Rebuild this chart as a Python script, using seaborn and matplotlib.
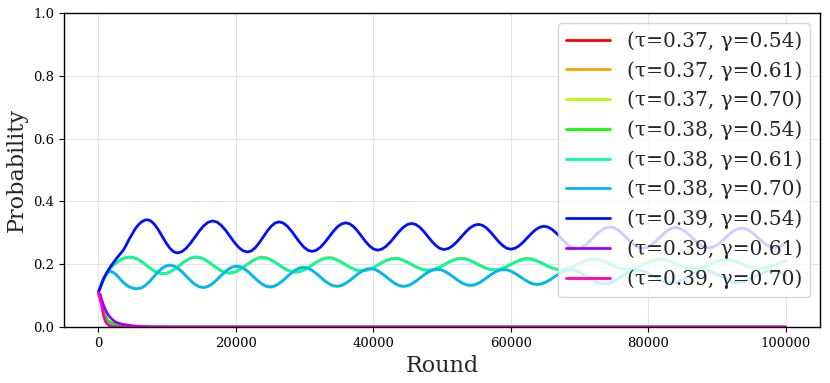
import numpy as np
import pandas as pd
import matplotlib
matplotlib.use("Agg")
import matplotlib.pyplot as plt
import seaborn as sns

labels = ["(τ=0.37, γ=0.54)", "(τ=0.37, γ=0.61)", "(τ=0.37, γ=0.70)",
          "(τ=0.38, γ=0.54)", "(τ=0.38, γ=0.61)", "(τ=0.38, γ=0.70)",
          "(τ=0.39, γ=0.54)", "(τ=0.39, γ=0.61)", "(τ=0.39, γ=0.70)"]

# ---- runs that die out quickly ----
rounds_decay = [0, 250, 500, 750, 1000, 1250, 1500, 2000, 2500, 3000, 3500, 4000,
                5000, 6000, 7000, 8000, 10000, 100000]
p_037_054 = [0.110, 0.102, 0.080, 0.055, 0.037, 0.024, 0.018, 0.012, 0.008, 0.005, 0.003, 0.002,
             0.001, 0.0005, 0.0, 0.0, 0.0, 0.0]
p_038_054 = [0.110, 0.102, 0.080, 0.055, 0.037, 0.024, 0.018, 0.012, 0.008, 0.005, 0.003, 0.002,
             0.001, 0.0005, 0.0, 0.0, 0.0, 0.0]
p_039_061 = [0.110, 0.103, 0.086, 0.070, 0.057, 0.046, 0.037, 0.025, 0.016, 0.012, 0.009, 0.007,
             0.004, 0.002, 0.001, 0.0005, 0.0, 0.0]
p_039_070 = [0.110, 0.090, 0.067, 0.038, 0.020, 0.011, 0.006, 0.002, 0.0008, 0.0, 0.0, 0.0,
             0.0, 0.0, 0.0, 0.0, 0.0, 0.0]

# ---- gamma = 0.61 (oscillating) ----
rounds_061 = [0, 400, 800, 1200, 1700, 2200, 2700, 3150, 3600, 4100, 4600,
              5203, 5805, 6408, 7010, 7613, 8215, 8818, 9420,
              10023, 10625, 11228, 11830, 12433, 13035, 13638, 14240,
              14843, 15445, 16048, 16650, 17253, 17855, 18458, 19060,
              19663, 20265, 20868, 21470, 22073, 22675, 23278, 23880,
              24483, 25085, 25688, 26290, 26893, 27495, 28098, 28700,
              29303, 29905, 30508, 31110, 31713, 32315, 32918, 33520,
              34123, 34725, 35328, 35930, 36533, 37135, 37738, 38340,
              38943, 39545, 40148, 40750, 41353, 41955, 42558, 43160,
              43763, 44365, 44968, 45570, 46173, 46775, 47378, 47980,
              48583, 49185, 49788, 50390, 50993, 51595, 52198, 52800,
              53403, 54005, 54608, 55210, 55813, 56415, 57018, 57620,
              58223, 58825, 59428, 60030, 60633, 61235, 61838, 62440,
              63043, 63645, 64248, 64850, 65453, 66055, 66658, 67260,
              67863, 68465, 69068, 69670, 70273, 70875, 71478, 72080,
              72683, 73285, 73888, 74490, 75093, 75695, 76298, 76900,
              77503, 78105, 78708, 79310, 79913, 80515, 81118, 81720,
              82323, 82925, 83528, 84130, 84733, 85335, 85938, 86540,
              87143, 87745, 88348, 88950, 89553, 90155, 90758, 91360,
              91963, 92565, 93168, 93770, 94373, 94975, 95578, 96180,
              96783, 97385, 97988, 98590, 99193, 99795, 100000]
p_038_061 = [0.110, 0.133, 0.153, 0.170, 0.186, 0.197, 0.206, 0.213, 0.218, 0.2215, 0.223,
             0.221, 0.2152, 0.2066, 0.1965, 0.1864, 0.1778, 0.172, 0.170,
             0.172, 0.1778, 0.1864, 0.1965, 0.2066, 0.2152, 0.221, 0.223,
             0.2211, 0.2155, 0.2073, 0.1975, 0.1877, 0.1795, 0.1739, 0.172,
             0.1739, 0.1792, 0.1871, 0.1965, 0.2059, 0.2138, 0.2191, 0.221,
             0.2193, 0.2143, 0.2068, 0.198, 0.1892, 0.1817, 0.1767, 0.175,
             0.1767, 0.1816, 0.1889, 0.1975, 0.2061, 0.2134, 0.2183, 0.220,
             0.2184, 0.214, 0.2074, 0.1995, 0.1916, 0.185, 0.1806, 0.179,
             0.1805, 0.1847, 0.191, 0.1985, 0.206, 0.2123, 0.2165, 0.218,
             0.2166, 0.2126, 0.2066, 0.1995, 0.1924, 0.1864, 0.1824, 0.181,
             0.1824, 0.1864, 0.1924, 0.1995, 0.2066, 0.2126, 0.2166, 0.218,
             0.2166, 0.2127, 0.2069, 0.200, 0.1931, 0.1873, 0.1834, 0.182,
             0.1833, 0.1871, 0.1928, 0.1995, 0.2062, 0.2119, 0.2157, 0.217,
             0.2157, 0.212, 0.2065, 0.200, 0.1935, 0.188, 0.1843, 0.183,
             0.1843, 0.1878, 0.1932, 0.1995, 0.2058, 0.2112, 0.2147, 0.216,
             0.2148, 0.2113, 0.2061, 0.200, 0.1939, 0.1887, 0.1852, 0.184,
             0.1852, 0.1885, 0.1936, 0.1995, 0.2054, 0.2105, 0.2138, 0.215,
             0.2139, 0.2106, 0.2057, 0.200, 0.1943, 0.1894, 0.1861, 0.185,
             0.1861, 0.1892, 0.1939, 0.1995, 0.2051, 0.2098, 0.2129, 0.214,
             0.2129, 0.2099, 0.2054, 0.200, 0.1946, 0.1901, 0.1871, 0.186,
             0.187, 0.190, 0.1943, 0.1995, 0.2047, 0.209, 0.2102]
p_037_061 = [0.110, 0.133, 0.153, 0.170, 0.186, 0.197, 0.206, 0.213, 0.218, 0.2215, 0.223,
             0.221, 0.2152, 0.2066, 0.1965, 0.1864, 0.1778, 0.172, 0.170,
             0.172, 0.1778, 0.1864, 0.1965, 0.2066, 0.2152, 0.221, 0.223,
             0.2211, 0.2155, 0.2073, 0.1975, 0.1877, 0.1795, 0.1739, 0.172,
             0.1739, 0.1792, 0.1871, 0.1965, 0.2059, 0.2138, 0.2205, 0.2225,
             0.2208, 0.2143, 0.2068, 0.198, 0.1892, 0.1817, 0.1767, 0.175,
             0.1767, 0.1816, 0.1889, 0.1975, 0.2061, 0.2134, 0.2198, 0.2215,
             0.2199, 0.214, 0.2074, 0.1995, 0.1916, 0.185, 0.1806, 0.179,
             0.1805, 0.1847, 0.191, 0.1985, 0.206, 0.2123, 0.218, 0.2195,
             0.2181, 0.2126, 0.2066, 0.1995, 0.1924, 0.1864, 0.1824, 0.181,
             0.1824, 0.1864, 0.1924, 0.1995, 0.2066, 0.2126, 0.2181, 0.2195,
             0.2181, 0.2127, 0.2069, 0.200, 0.1931, 0.1873, 0.1834, 0.182,
             0.1833, 0.1871, 0.1928, 0.1995, 0.2062, 0.2119, 0.2172, 0.2185,
             0.2172, 0.212, 0.2065, 0.200, 0.1935, 0.188, 0.1843, 0.183,
             0.1843, 0.1878, 0.1932, 0.1995, 0.2058, 0.2112, 0.2162, 0.2175,
             0.2163, 0.2113, 0.2061, 0.200, 0.1939, 0.1887, 0.1852, 0.184,
             0.1852, 0.1885, 0.1936, 0.1995, 0.2054, 0.2105, 0.2153, 0.2165,
             0.2154, 0.2106, 0.2057, 0.200, 0.1943, 0.1894, 0.1861, 0.185,
             0.1861, 0.1892, 0.1939, 0.1995, 0.2051, 0.2098, 0.2144, 0.2155,
             0.2144, 0.2099, 0.2054, 0.200, 0.1946, 0.1901, 0.1871, 0.186,
             0.187, 0.190, 0.1943, 0.1995, 0.2047, 0.209, 0.2105]

# ---- gamma = 0.70 (oscillating) ----
rounds_070 = [0, 300, 600, 900, 1200, 1450, 1730, 2100, 2500, 2900, 3300, 3700, 4200, 4700, 5200, 5680,
              6270, 6860, 7450, 8040, 8630, 9220, 9810, 10400,
              11008, 11615, 12223, 12830, 13438, 14045, 14653, 15260,
              15868, 16475, 17083, 17690, 18298, 18905, 19513, 20120,
              20728, 21335, 21943, 22550, 23158, 23765, 24373, 24980,
              25588, 26195, 26803, 27410, 28018, 28625, 29233, 29840,
              30448, 31055, 31663, 32270, 32878, 33485, 34093, 34700,
              35308, 35915, 36523, 37130, 37738, 38345, 38953, 39560,
              40168, 40775, 41383, 41990, 42598, 43205, 43813, 44420,
              45028, 45635, 46243, 46850, 47458, 48065, 48673, 49280,
              49888, 50495, 51103, 51710, 52318, 52925, 53533, 54140,
              54748, 55355, 55963, 56570, 57178, 57785, 58393, 59000,
              59608, 60215, 60823, 61430, 62038, 62645, 63253, 63860,
              64468, 65075, 65683, 66290, 66898, 67505, 68113, 68720,
              69328, 69935, 70543, 71150, 71758, 72365, 72973, 73580,
              74188, 74795, 75403, 76010, 76618, 77225, 77833, 78440,
              79048, 79655, 80263, 80870, 81478, 82085, 82693, 83300,
              83908, 84515, 85123, 85730, 86338, 86945, 87553, 88160,
              88768, 89375, 89983, 90590, 91198, 91805, 92413, 93020,
              93628, 94235, 94843, 95450, 96058, 96665, 97273, 97880,
              98488, 99095, 99703, 100000]
p_038_070 = [0.110, 0.128, 0.146, 0.160, 0.169, 0.174, 0.177, 0.175, 0.169, 0.160, 0.150, 0.141, 0.132, 0.126, 0.123, 0.122,
             0.1248, 0.133, 0.1451, 0.1595, 0.1739, 0.186, 0.1942, 0.197,
             0.1943, 0.1866, 0.1751, 0.1615, 0.1479, 0.1364, 0.1287, 0.126,
             0.1286, 0.136, 0.147, 0.160, 0.173, 0.184, 0.1914, 0.194,
             0.1915, 0.1843, 0.1736, 0.161, 0.1484, 0.1377, 0.1305, 0.128,
             0.1304, 0.1371, 0.1471, 0.159, 0.1709, 0.1809, 0.1876, 0.190,
             0.1877, 0.1812, 0.1715, 0.160, 0.1485, 0.1388, 0.1323, 0.130,
             0.1321, 0.1382, 0.1473, 0.158, 0.1687, 0.1778, 0.1839, 0.186,
             0.1839, 0.1778, 0.1687, 0.158, 0.1473, 0.1382, 0.1321, 0.130,
             0.1321, 0.1379, 0.1467, 0.157, 0.1673, 0.1761, 0.1819, 0.184,
             0.1821, 0.1765, 0.1683, 0.1585, 0.1487, 0.1405, 0.1349, 0.133,
             0.1349, 0.1403, 0.1484, 0.158, 0.1676, 0.1757, 0.1811, 0.183,
             0.1812, 0.1761, 0.1685, 0.1595, 0.1505, 0.1429, 0.1378, 0.136,
             0.1377, 0.1427, 0.1502, 0.159, 0.1678, 0.1753, 0.1803, 0.182,
             0.1803, 0.1756, 0.1684, 0.160, 0.1516, 0.1444, 0.1397, 0.138,
             0.1396, 0.1443, 0.1513, 0.1595, 0.1677, 0.1747, 0.1794, 0.181,
             0.1794, 0.175, 0.1684, 0.1605, 0.1526, 0.146, 0.1416, 0.140,
             0.1415, 0.1459, 0.1523, 0.160, 0.1677, 0.1741, 0.1785, 0.180,
             0.1786, 0.1744, 0.1683, 0.161, 0.1537, 0.1476, 0.1434, 0.142,
             0.1434, 0.1474, 0.1534, 0.1605, 0.1676, 0.1736, 0.1776, 0.179,
             0.1776, 0.1737, 0.1679, 0.1646]
p_037_070 = [0.110, 0.128, 0.146, 0.160, 0.169, 0.174, 0.177, 0.175, 0.169, 0.160, 0.150, 0.141, 0.132, 0.126, 0.123, 0.122,
             0.1248, 0.133, 0.1451, 0.1595, 0.1739, 0.186, 0.1942, 0.197,
             0.1943, 0.1866, 0.1751, 0.1615, 0.1479, 0.1364, 0.1287, 0.126,
             0.1286, 0.136, 0.147, 0.160, 0.173, 0.184, 0.1914, 0.194,
             0.1915, 0.1843, 0.1736, 0.161, 0.1484, 0.1377, 0.1291, 0.1265,
             0.129, 0.1371, 0.1471, 0.159, 0.1709, 0.1809, 0.189, 0.1915,
             0.1891, 0.1812, 0.1715, 0.160, 0.1485, 0.1388, 0.1309, 0.1285,
             0.1307, 0.1382, 0.1473, 0.158, 0.1687, 0.1778, 0.1853, 0.1875,
             0.1853, 0.1778, 0.1687, 0.158, 0.1473, 0.1382, 0.1307, 0.1285,
             0.1307, 0.1379, 0.1467, 0.157, 0.1673, 0.1761, 0.1833, 0.1855,
             0.1835, 0.1765, 0.1683, 0.1585, 0.1487, 0.1405, 0.1335, 0.1315,
             0.1335, 0.1403, 0.1484, 0.158, 0.1676, 0.1757, 0.1825, 0.1845,
             0.1826, 0.1761, 0.1685, 0.1595, 0.1505, 0.1429, 0.1364, 0.1345,
             0.1363, 0.1427, 0.1502, 0.159, 0.1678, 0.1753, 0.1817, 0.1835,
             0.1817, 0.1756, 0.1684, 0.160, 0.1516, 0.1444, 0.1383, 0.1365,
             0.1382, 0.1443, 0.1513, 0.1595, 0.1677, 0.1747, 0.1808, 0.1825,
             0.1808, 0.175, 0.1684, 0.1605, 0.1526, 0.146, 0.1402, 0.1385,
             0.1401, 0.1459, 0.1523, 0.160, 0.1677, 0.1741, 0.1799, 0.1815,
             0.180, 0.1744, 0.1683, 0.161, 0.1537, 0.1476, 0.142, 0.1405,
             0.142, 0.1474, 0.1534, 0.1605, 0.1676, 0.1736, 0.179, 0.1805,
             0.179, 0.1737, 0.1679, 0.1646]

# ---- tau = 0.39, gamma = 0.54 ----
rounds_039_054 = [0, 400, 800, 1200, 1700, 2200, 2700, 3200, 3700, 4100, 4500, 4950, 5400, 5850, 6300, 6700, 7100,
                  7650, 8200, 8750, 9300, 9850, 10400, 10950, 11500,
                  12144, 12788, 13431, 14075, 14719, 15363, 16006, 16650,
                  17281, 17913, 18544, 19175, 19806, 20438, 21069, 21700,
                  22275, 22850, 23425, 24000, 24575, 25150, 25725, 26300,
                  26900, 27500, 28100, 28700, 29300, 29900, 30500, 31100,
                  31713, 32325, 32938, 33550, 34163, 34775, 35388, 36000,
                  36581, 37163, 37744, 38325, 38906, 39488, 40069, 40650,
                  41269, 41888, 42506, 43125, 43744, 44363, 44981, 45600,
                  46188, 46775, 47363, 47950, 48538, 49125, 49713, 50300,
                  50925, 51550, 52175, 52800, 53425, 54050, 54675, 55300,
                  55888, 56475, 57063, 57650, 58238, 58825, 59413, 60000,
                  60606, 61213, 61819, 62425, 63031, 63638, 64244, 64850,
                  65444, 66038, 66631, 67225, 67819, 68413, 69006, 69600,
                  70200, 70800, 71400, 72000, 72600, 73200, 73800, 74400,
                  75000, 75600, 76200, 76800, 77400, 78000, 78600, 79200,
                  79800, 80400, 81000, 81600, 82200, 82800, 83400, 84000,
                  84600, 85200, 85800, 86400, 87000, 87600, 88200, 88800,
                  89400, 90000, 90600, 91200, 91800, 92400, 93000, 93600,
                  94200, 94800, 95400, 96000, 96600, 97200, 97800, 98400,
                  99000, 99600, 100000]
p_039_054 = [0.110, 0.133, 0.155, 0.172, 0.190, 0.205, 0.220, 0.233, 0.247, 0.263, 0.280, 0.297, 0.314, 0.326, 0.335, 0.340, 0.342,
             0.338, 0.3265, 0.3093, 0.289, 0.2687, 0.2515, 0.240, 0.236,
             0.2399, 0.2509, 0.2675, 0.287, 0.3065, 0.3231, 0.3341, 0.338,
             0.3342, 0.3235, 0.3075, 0.2885, 0.2695, 0.2535, 0.2428, 0.239,
             0.2426, 0.2531, 0.2686, 0.287, 0.3054, 0.3209, 0.3314, 0.335,
             0.3314, 0.3212, 0.306, 0.288, 0.270, 0.2548, 0.2446, 0.241,
             0.2445, 0.2543, 0.2691, 0.2865, 0.3039, 0.3187, 0.3285, 0.332,
             0.3287, 0.3193, 0.3052, 0.2885, 0.2718, 0.2577, 0.2483, 0.245,
             0.2482, 0.2575, 0.2712, 0.2875, 0.3038, 0.3175, 0.3268, 0.330,
             0.3268, 0.3178, 0.3044, 0.2885, 0.2726, 0.2592, 0.2502, 0.247,
             0.250, 0.2587, 0.2717, 0.287, 0.3023, 0.3153, 0.324, 0.327,
             0.324, 0.3154, 0.3026, 0.2875, 0.2724, 0.2596, 0.251, 0.248,
             0.2508, 0.2587, 0.2705, 0.2845, 0.2985, 0.3103, 0.3182, 0.321,
             0.3183, 0.3106, 0.2991, 0.2855, 0.2719, 0.2604, 0.2527, 0.250,
             0.2526, 0.2601, 0.2713, 0.2845, 0.2977, 0.3089, 0.3164, 0.319,
             0.3164, 0.309, 0.298, 0.285, 0.272, 0.261, 0.2536, 0.251,
             0.2535, 0.2607, 0.2714, 0.284, 0.2966, 0.3073, 0.3145, 0.317,
             0.3145, 0.3075, 0.2969, 0.2845, 0.2721, 0.2615, 0.2545, 0.252,
             0.2544, 0.2612, 0.2714, 0.2835, 0.2956, 0.3058, 0.3126, 0.315,
             0.3126, 0.3059, 0.2959, 0.284, 0.2721, 0.2621, 0.2554, 0.253,
             0.2553, 0.2618, 0.268]

series = [(rounds_decay, p_037_054), (rounds_061, p_037_061), (rounds_070, p_037_070),
          (rounds_decay, p_038_054), (rounds_061, p_038_061), (rounds_070, p_038_070),
          (rounds_039_054, p_039_054), (rounds_decay, p_039_061), (rounds_decay, p_039_070)]

x_ticks = [0, 20000, 40000, 60000, 80000, 100000]
y_ticks = [0.0, 0.2, 0.4, 0.6, 0.8, 1.0]

frames = []
for lab, (xs, ys) in zip(labels, series):
    frames.append(pd.DataFrame({"Round": xs, "Probability": ys, "run": lab}))
df = pd.concat(frames, ignore_index=True)

sns.set_style("ticks")
plt.rcParams["font.family"] = ["DejaVu Serif"]

colors = [plt.cm.hsv(i / 9) for i in range(9)]

fig = plt.figure(figsize=(8.3, 3.83), dpi=100)
ax = fig.add_axes([0.077, 0.146, 0.911, 0.820])
sns.lineplot(data=df, x="Round", y="Probability", hue="run", hue_order=labels,
             palette=colors, estimator=None, sort=False, legend=False,
             linewidth=2, ax=ax)

ax.set_xlim(-5000, 105000)
ax.set_ylim(0, 1)
ax.set_xticks(x_ticks)
ax.set_xticklabels([str(t) for t in x_ticks])
ax.set_yticks(y_ticks)
ax.set_yticklabels([f"{t:.1f}" for t in y_ticks])
ax.tick_params(labelsize=9.5, colors="black")
ax.grid(True, color="#dddddd", linewidth=0.8, alpha=0.8)
for s in ax.spines.values():
    s.set_color("black")
    s.set_linewidth(1.0)
    s.set_visible(True)
ax.set_xlabel("Round", fontsize=16)
ax.set_ylabel("Probability", fontsize=16)

ax.legend(ax.lines[:9], labels, loc="upper right", fontsize=14.5,
          handlelength=2.2, labelspacing=0.5, framealpha=0.8,
          borderaxespad=0.5)

fig.savefig("out.png", dpi=100)
